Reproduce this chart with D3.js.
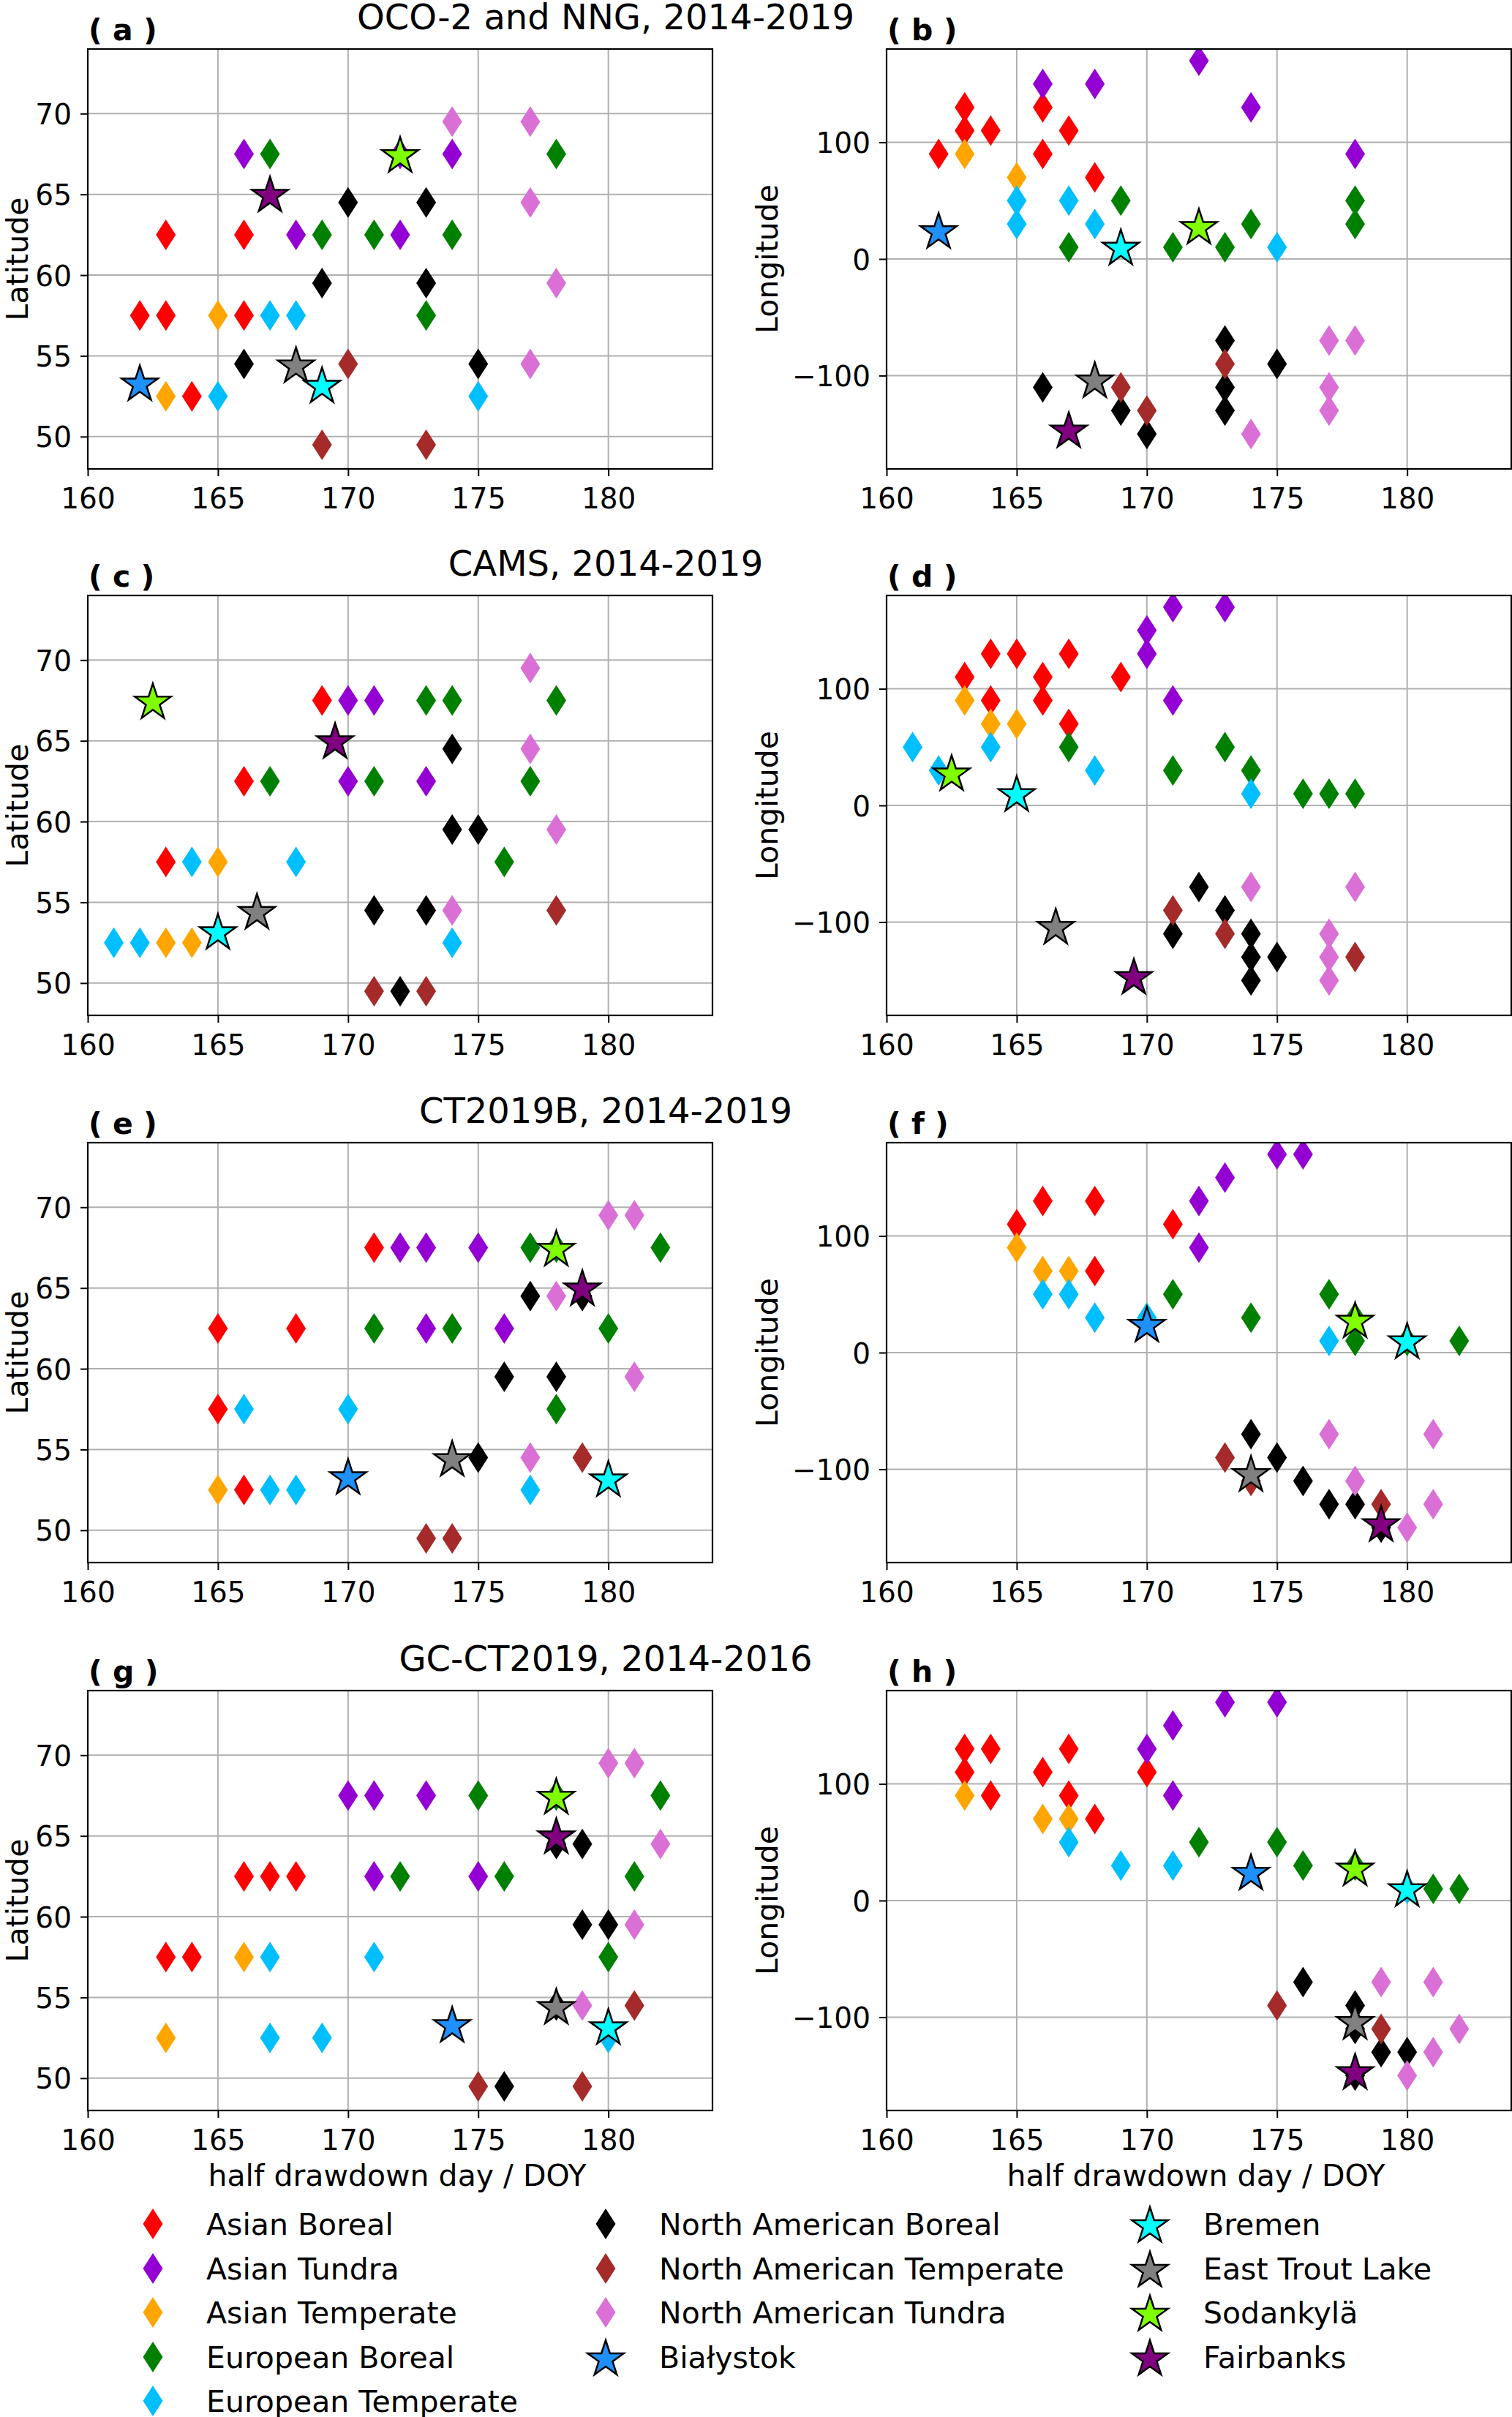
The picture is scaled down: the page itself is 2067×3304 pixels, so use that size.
<!DOCTYPE html>
<html>
<head>
<meta charset="utf-8">
<script src="https://cdn.jsdelivr.net/npm/d3@7/dist/d3.min.js"></script>
<style>
    body { margin: 0; background: #fff; }
    svg { display: block; font-family: "DejaVu Sans", sans-serif; }
</style>
</head>
<body>
<div id="chart"></div>
<script>
// ---- data ----
const regionKeys = ["AB", "ATu", "ATe", "EB", "ET", "NAB", "NATe", "NATu"];
const regionNames = ["Asian Boreal", "Asian Tundra", "Asian Temperate", "European Boreal",
    "European Temperate", "North American Boreal", "North American Temperate", "North American Tundra"];
const regionColors = ["red", "darkviolet", "orange", "green", "deepskyblue", "black", "brown", "orchid"];

const stationNames = ["Białystok", "Bremen", "East Trout Lake", "Sodankylä", "Fairbanks"];
const stationColors = ["dodgerblue", "cyan", "gray", "chartreuse", "purple"];
const stationLat = [53.23, 53.10, 54.35, 67.37, 64.92];
const stationLon = [23.03, 8.85, -104.99, 26.63, -147.85];

// half drawdown day of each station, per dataset (null = not shown)
const ocoStationDoy = [162, 169, 168, 172, 167];
const camsStationDoy = [null, 165, 166.5, 162.5, 169.5];
const ctStationDoy = [170, 180, 174, 178, 179];
const gcStationDoy = [174, 180, 178, 178, 178];

const datasetTitles = ["OCO-2 and NNG, 2014-2019", "CAMS, 2014-2019", "CT2019B, 2014-2019", "GC-CT2019, 2014-2016"];
const panelLetters = ["a", "b", "c", "d", "e", "f", "g", "h"];

const doyTicks = [160, 165, 170, 175, 180];
const latTicks = [50, 55, 60, 65, 70];
const lonTicks = [-100, 0, 100];

// [region, doy, latitude]
const ocoLat = [
    ["AB", 162, 57.5], ["AB", 163, 62.5], ["AB", 163, 57.5], ["AB", 164, 52.5], ["AB", 166, 62.5], ["AB", 166, 57.5],
    ["ATu", 166, 67.5], ["ATu", 168, 62.5], ["ATu", 172, 62.5], ["ATu", 172, 67.5], ["ATu", 174, 67.5],
    ["ATe", 163, 52.5], ["ATe", 165, 57.5],
    ["EB", 167, 67.5], ["EB", 169, 62.5], ["EB", 171, 62.5], ["EB", 173, 57.5], ["EB", 174, 62.5], ["EB", 178, 67.5],
    ["ET", 165, 52.5], ["ET", 167, 57.5], ["ET", 168, 57.5], ["ET", 175, 52.5],
    ["NAB", 166, 54.5], ["NAB", 169, 59.5], ["NAB", 170, 64.5], ["NAB", 173, 64.5], ["NAB", 173, 59.5], ["NAB", 175, 54.5],
    ["NATe", 169, 49.5], ["NATe", 170, 54.5], ["NATe", 173, 49.5],
    ["NATu", 174, 69.5], ["NATu", 177, 69.5], ["NATu", 177, 64.5], ["NATu", 178, 59.5], ["NATu", 177, 54.5]
];
// [region, doy, longitude]
const ocoLon = [
    ["AB", 162, 90], ["AB", 163, 130], ["AB", 163, 110], ["AB", 164, 110], ["AB", 166, 130], ["AB", 166, 90], ["AB", 167, 110], ["AB", 168, 70],
    ["ATu", 166, 150], ["ATu", 168, 150], ["ATu", 172, 170], ["ATu", 174, 130], ["ATu", 178, 90],
    ["ATe", 163, 90], ["ATe", 165, 70],
    ["EB", 167, 10], ["EB", 169, 50], ["EB", 171, 10], ["EB", 173, 10], ["EB", 174, 30], ["EB", 178, 50], ["EB", 178, 30],
    ["ET", 165, 50], ["ET", 165, 30], ["ET", 167, 50], ["ET", 168, 30], ["ET", 175, 10],
    ["NAB", 166, -110], ["NAB", 169, -130], ["NAB", 170, -150], ["NAB", 173, -70], ["NAB", 173, -110], ["NAB", 173, -130], ["NAB", 175, -90],
    ["NATe", 169, -110], ["NATe", 170, -130], ["NATe", 173, -90],
    ["NATu", 174, -150], ["NATu", 177, -70], ["NATu", 178, -70], ["NATu", 177, -110], ["NATu", 177, -130]
];

const camsLat = [
    ["AB", 163, 57.5], ["AB", 166, 62.5], ["AB", 169, 67.5],
    ["ATu", 170, 67.5], ["ATu", 171, 67.5], ["ATu", 170, 62.5], ["ATu", 173, 62.5],
    ["ATe", 163, 52.5], ["ATe", 164, 52.5], ["ATe", 165, 57.5],
    ["EB", 167, 62.5], ["EB", 171, 62.5], ["EB", 173, 67.5], ["EB", 174, 67.5], ["EB", 176, 57.5], ["EB", 177, 62.5], ["EB", 178, 67.5],
    ["ET", 161, 52.5], ["ET", 162, 52.5], ["ET", 164, 57.5], ["ET", 168, 57.5], ["ET", 174, 52.5],
    ["NAB", 171, 54.5], ["NAB", 172, 49.5], ["NAB", 173, 54.5], ["NAB", 174, 64.5], ["NAB", 174, 59.5], ["NAB", 175, 59.5],
    ["NATe", 171, 49.5], ["NATe", 173, 49.5], ["NATe", 178, 54.5],
    ["NATu", 177, 69.5], ["NATu", 177, 64.5], ["NATu", 178, 59.5], ["NATu", 174, 54.5]
];
const camsLon = [
    ["AB", 163, 110], ["AB", 164, 130], ["AB", 164, 90], ["AB", 165, 130], ["AB", 166, 110], ["AB", 166, 90], ["AB", 167, 130], ["AB", 167, 70], ["AB", 169, 110],
    ["ATu", 170, 150], ["ATu", 170, 130], ["ATu", 171, 170], ["ATu", 171, 90], ["ATu", 173, 170],
    ["ATe", 163, 90], ["ATe", 164, 70], ["ATe", 165, 70],
    ["EB", 167, 50], ["EB", 171, 30], ["EB", 173, 50], ["EB", 174, 30], ["EB", 176, 10], ["EB", 177, 10], ["EB", 178, 10],
    ["ET", 161, 50], ["ET", 162, 30], ["ET", 164, 50], ["ET", 168, 30], ["ET", 174, 10],
    ["NAB", 171, -110], ["NAB", 172, -70], ["NAB", 173, -90], ["NAB", 174, -110], ["NAB", 174, -130], ["NAB", 174, -150], ["NAB", 175, -130],
    ["NATe", 171, -90], ["NATe", 173, -110], ["NATe", 178, -130],
    ["NATu", 174, -70], ["NATu", 177, -110], ["NATu", 177, -130], ["NATu", 177, -150], ["NATu", 178, -70]
];

const ctLat = [
    ["AB", 165, 62.5], ["AB", 168, 62.5], ["AB", 165, 57.5], ["AB", 166, 52.5], ["AB", 171, 67.5],
    ["ATu", 172, 67.5], ["ATu", 173, 67.5], ["ATu", 175, 67.5], ["ATu", 173, 62.5], ["ATu", 176, 62.5],
    ["ATe", 165, 52.5],
    ["EB", 171, 62.5], ["EB", 174, 62.5], ["EB", 177, 67.5], ["EB", 178, 67.5], ["EB", 178, 57.5], ["EB", 180, 62.5], ["EB", 182, 67.5],
    ["ET", 166, 57.5], ["ET", 170, 57.5], ["ET", 167, 52.5], ["ET", 168, 52.5], ["ET", 177, 52.5],
    ["NAB", 176, 59.5], ["NAB", 178, 59.5], ["NAB", 177, 64.5], ["NAB", 179, 64.5], ["NAB", 175, 54.5],
    ["NATe", 173, 49.5], ["NATe", 174, 49.5], ["NATe", 179, 54.5],
    ["NATu", 180, 69.5], ["NATu", 181, 69.5], ["NATu", 178, 64.5], ["NATu", 181, 59.5], ["NATu", 177, 54.5]
];
const ctLon = [
    ["AB", 165, 110], ["AB", 166, 130], ["AB", 168, 130], ["AB", 168, 70], ["AB", 171, 110],
    ["ATu", 172, 130], ["ATu", 172, 90], ["ATu", 173, 150], ["ATu", 175, 170], ["ATu", 176, 170],
    ["ATe", 165, 90], ["ATe", 166, 70], ["ATe", 167, 70],
    ["EB", 171, 50], ["EB", 174, 30], ["EB", 177, 50], ["EB", 178, 30], ["EB", 178, 10], ["EB", 180, 10], ["EB", 182, 10],
    ["ET", 166, 50], ["ET", 167, 50], ["ET", 168, 30], ["ET", 170, 30], ["ET", 177, 10],
    ["NAB", 174, -70], ["NAB", 175, -90], ["NAB", 176, -110], ["NAB", 177, -130], ["NAB", 178, -130], ["NAB", 179, -150],
    ["NATe", 173, -90], ["NATe", 174, -110], ["NATe", 179, -130],
    ["NATu", 177, -70], ["NATu", 178, -110], ["NATu", 180, -150], ["NATu", 181, -70], ["NATu", 181, -130]
];

const gcLat = [
    ["AB", 166, 62.5], ["AB", 167, 62.5], ["AB", 168, 62.5], ["AB", 163, 57.5], ["AB", 164, 57.5],
    ["ATu", 170, 67.5], ["ATu", 171, 67.5], ["ATu", 173, 67.5], ["ATu", 171, 62.5], ["ATu", 175, 62.5],
    ["ATe", 166, 57.5], ["ATe", 163, 52.5],
    ["EB", 175, 67.5], ["EB", 178, 67.5], ["EB", 172, 62.5], ["EB", 176, 62.5], ["EB", 181, 62.5], ["EB", 180, 57.5], ["EB", 182, 67.5],
    ["ET", 167, 57.5], ["ET", 171, 57.5], ["ET", 167, 52.5], ["ET", 169, 52.5], ["ET", 180, 52.5],
    ["NAB", 178, 64.5], ["NAB", 179, 64.5], ["NAB", 179, 59.5], ["NAB", 180, 59.5], ["NAB", 176, 49.5], ["NAB", 178, 54.5],
    ["NATe", 175, 49.5], ["NATe", 179, 49.5], ["NATe", 181, 54.5],
    ["NATu", 180, 69.5], ["NATu", 181, 69.5], ["NATu", 182, 64.5], ["NATu", 181, 59.5], ["NATu", 179, 54.5]
];
const gcLon = [
    ["AB", 163, 130], ["AB", 163, 110], ["AB", 164, 130], ["AB", 164, 90], ["AB", 166, 110], ["AB", 167, 130], ["AB", 167, 90], ["AB", 168, 70], ["AB", 170, 110],
    ["ATu", 170, 130], ["ATu", 171, 150], ["ATu", 171, 90], ["ATu", 173, 170], ["ATu", 175, 170],
    ["ATe", 163, 90], ["ATe", 166, 70], ["ATe", 167, 70],
    ["EB", 172, 50], ["EB", 175, 50], ["EB", 176, 30], ["EB", 178, 30], ["EB", 181, 10], ["EB", 182, 10],
    ["ET", 167, 50], ["ET", 169, 30], ["ET", 171, 30], ["ET", 180, 10],
    ["NAB", 176, -70], ["NAB", 178, -90], ["NAB", 178, -110], ["NAB", 179, -130], ["NAB", 180, -130], ["NAB", 178, -150],
    ["NATe", 175, -90], ["NATe", 179, -110],
    ["NATu", 179, -70], ["NATu", 181, -70], ["NATu", 182, -110], ["NATu", 181, -130], ["NATu", 180, -150]
];

// ---- layout ----
const W = 2067, H = 3304;
const colX = [120, 1212];
const rowY = [67, 814, 1562, 2311];
const axW = 854, axH = 574;
const tickFS = 39, labelFS = 41, titleFS = 48;

const datasets = [
    { lat: ocoLat, lon: ocoLon, stations: ocoStationDoy },
    { lat: camsLat, lon: camsLon, stations: camsStationDoy },
    { lat: ctLat, lon: ctLon, stations: ctStationDoy },
    { lat: gcLat, lon: gcLon, stations: gcStationDoy }
];

const diamondPath = "M0,-21L13.5,0L0,21L-13.5,0Z";
function starPath(r) {
    const pts = d3.range(10).map(i => {
        const rad = i % 2 ? r * 0.381966 : r;
        const a = i * Math.PI / 5;
        return [rad * Math.sin(a), -rad * Math.cos(a)];
    });
    return "M" + pts.map(p => p[0].toFixed(2) + "," + p[1].toFixed(2)).join("L") + "Z";
}
const star = starPath(26);

const svg = d3.select("#chart").append("svg")
    .attr("width", W)
    .attr("height", H)
    .attr("viewBox", [0, 0, W, H]);

svg.append("rect").attr("width", W).attr("height", H).attr("fill", "#fff");

datasets.forEach((ds, row) => {
    [0, 1].forEach(col => {
        const isLat = col === 0;
        const x0 = colX[col], y0 = rowY[row];
        const idx = row * 2 + col;

        const x = d3.scaleLinear().domain([160, 184]).range([x0, x0 + axW]);
        const y = d3.scaleLinear()
            .domain(isLat ? [48, 74] : [-180, 180])
            .range([y0 + axH, y0]);
        const yTicks = isLat ? latTicks : lonTicks;

        const g = svg.append("g");

        // grid
        g.append("g").selectAll("line").data(doyTicks).join("line")
            .attr("x1", d => x(d)).attr("x2", d => x(d))
            .attr("y1", y0).attr("y2", y0 + axH)
            .attr("stroke", "#b0b0b0").attr("stroke-width", 2);
        g.append("g").selectAll("line").data(yTicks).join("line")
            .attr("x1", x0).attr("x2", x0 + axW)
            .attr("y1", d => y(d)).attr("y2", d => y(d))
            .attr("stroke", "#b0b0b0").attr("stroke-width", 2);

        // markers, clipped to the axes box
        const clipId = "clip" + idx;
        svg.append("clipPath").attr("id", clipId)
            .append("rect").attr("x", x0).attr("y", y0).attr("width", axW).attr("height", axH);
        const marks = g.append("g").attr("clip-path", `url(#${clipId})`);

        const pts = (isLat ? ds.lat : ds.lon).slice()
            .sort((a, b) => regionKeys.indexOf(a[0]) - regionKeys.indexOf(b[0]));
        marks.selectAll("path.region").data(pts).join("path")
            .attr("class", "region")
            .attr("d", diamondPath)
            .attr("transform", d => `translate(${x(d[1])},${y(d[2])})`)
            .attr("fill", d => regionColors[regionKeys.indexOf(d[0])]);

        const st = stationNames.map((name, i) => ({
            i, doy: ds.stations[i], v: isLat ? stationLat[i] : stationLon[i]
        })).filter(d => d.doy !== null);
        marks.selectAll("path.station").data(st).join("path")
            .attr("class", "station")
            .attr("d", star)
            .attr("transform", d => `translate(${x(d.doy)},${y(d.v)})`)
            .attr("fill", d => stationColors[d.i])
            .attr("stroke", "#000")
            .attr("stroke-width", 2.5);

        // axes
        const xAxis = g.append("g")
            .attr("transform", `translate(0,${y0 + axH})`)
            .call(d3.axisBottom(x).tickValues(doyTicks).tickSize(10).tickSizeOuter(0).tickPadding(16));
        const yAxis = g.append("g")
            .attr("transform", `translate(${x0},0)`)
            .call(d3.axisLeft(y).tickValues(yTicks).tickSize(10).tickSizeOuter(0).tickPadding(12));
        [xAxis, yAxis].forEach(a => {
            a.select(".domain").remove();
            a.selectAll(".tick line").attr("stroke", "#000").attr("stroke-width", 2);
            a.selectAll(".tick text")
                .attr("font-size", tickFS)
                .attr("font-family", "DejaVu Sans, sans-serif")
                .attr("fill", "#000");
        });
        yAxis.selectAll(".tick text").attr("dy", "0.36em");

        // frame
        g.append("rect")
            .attr("x", x0).attr("y", y0).attr("width", axW).attr("height", axH)
            .attr("fill", "none").attr("stroke", "#000").attr("stroke-width", 2.2);

        // panel letter
        g.append("text")
            .attr("x", x0 + 1).attr("y", y0 - 12)
            .attr("font-size", labelFS).attr("font-weight", "bold")
            .text(`( ${panelLetters[idx]} )`);

        // y label
        g.append("text")
            .attr("transform", `translate(${x0 - (isLat ? 82 : 149)},${y0 + axH / 2}) rotate(-90)`)
            .attr("text-anchor", "middle")
            .attr("font-size", labelFS)
            .text(isLat ? "Latitude" : "Longitude");

        if (row === 3) {
            g.append("text")
                .attr("x", x0 + axW / 2 - 4).attr("y", y0 + axH + 103)
                .attr("text-anchor", "middle")
                .attr("font-size", labelFS)
                .text("half drawdown day / DOY");
        }
    });

    svg.append("text")
        .attr("x", 828).attr("y", rowY[row] - 27)
        .attr("text-anchor", "middle")
        .attr("font-size", titleFS)
        .text(datasetTitles[row]);
});

// ---- legend ----
const legendRows = [3040, 3101, 3161, 3222, 3282];
const legendCols = [209, 828, 1572];
const legendItems = [
    ...regionNames.map((name, i) => ({ name, color: regionColors[i], shape: "diamond" })),
    ...stationNames.map((name, i) => ({ name, color: stationColors[i], shape: "star" }))
];
// column 1: 5 regions, column 2: 3 regions + Białystok, column 3: other stations
const legendSlots = [[0, 0], [0, 1], [0, 2], [0, 3], [0, 4], [1, 0], [1, 1], [1, 2], [1, 3], [2, 0], [2, 1], [2, 2], [2, 3]];

const legend = svg.append("g");
legendItems.forEach((item, i) => {
    const [c, r] = legendSlots[i];
    const lx = legendCols[c], ly = legendRows[r];
    const m = legend.append("path")
        .attr("d", item.shape === "diamond" ? diamondPath : star)
        .attr("transform", `translate(${lx},${ly + (item.shape === "star" ? 3 : 0)})`)
        .attr("fill", item.color);
    if (item.shape === "star") m.attr("stroke", "#000").attr("stroke-width", 2.5);
    legend.append("text")
        .attr("x", lx + 73).attr("y", ly)
        .attr("dy", "0.36em")
        .attr("font-size", labelFS)
        .text(item.name);
});
</script>
</body>
</html>
